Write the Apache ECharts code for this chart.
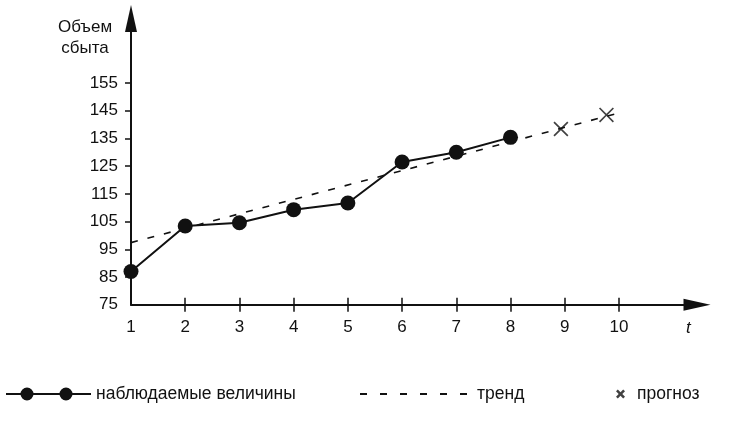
<!DOCTYPE html>
<html>
<head>
<meta charset="utf-8">
<script src="https://cdn.jsdelivr.net/npm/echarts@6/dist/echarts.min.js"></script>
<style>
html,body{margin:0;padding:0;background:#fff;}
#chart{width:732px;height:421px;}
</style>
</head>
<body>
<div id="chart"></div>
<script>
// ---- data ----
var periods = [1, 2, 3, 4, 5, 6, 7, 8];
var observed = [87, 103.4, 104.6, 109.3, 111.7, 126.5, 130, 135.4];
var trendX = [1, 10];
var trendY = [97.4, 144.2];
var forecastX = [8.93, 9.77];
var forecastY = [138.4, 143.5];
var xTickLabels = [1, 2, 3, 4, 5, 6, 7, 8, 9, 10];
var yTickLabels = [75, 85, 95, 105, 115, 125, 135, 145, 155];
var seriesNames = ['наблюдаемые величины', 'тренд', 'прогноз'];
var yTitle = 'Объем\nсбыта';
var xTitle = 't';

var FONT = '"Liberation Sans", Arial, Helvetica, sans-serif';
var INK = '#111';

var crossThin = 'path://M0,1.1 L1.1,0 L7,5.9 L12.9,0 L14,1.1 L8.1,7 L14,12.9 L12.9,14 L7,8.1 L1.1,14 L0,12.9 L5.9,7 Z';
var crossBold = 'path://M0,1.6 L1.6,0 L4,2.4 L6.4,0 L8,1.6 L5.6,4 L8,6.4 L6.4,8 L4,5.6 L1.6,8 L0,6.4 L2.4,4 Z';
var obsIcon = 'path://M0,5.5 L85,5.5 L85,7.5 L0,7.5 Z M14.5,6.5 A6.5,6.5 0 1 1 27.5,6.5 A6.5,6.5 0 1 1 14.5,6.5 Z M53.5,6.5 A6.5,6.5 0 1 1 66.5,6.5 A6.5,6.5 0 1 1 53.5,6.5 Z';
var dashIcon = 'path://M0,0 L7,0 L7,2 L0,2 Z M20,0 L27,0 L27,2 L20,2 Z M40,0 L47,0 L47,2 L40,2 Z M60,0 L67,0 L67,2 L60,2 Z M80,0 L87,0 L87,2 L80,2 Z M100,0 L107,0 L107,2 L100,2 Z';

var chart = echarts.init(document.getElementById('chart'), null, {renderer: 'canvas'});

var legendText = {color: INK, fontSize: 17.5, fontFamily: FONT};
var X_MAX = 11.44;

var option = {
  backgroundColor: '#fff',
  animation: false,
  grid: {left: 131, right: 35, top: 18.5, bottom: 116.3, containLabel: false, outerBoundsMode: 'none'},
  xAxis: [{
    type: 'value', min: 1, max: X_MAX, interval: 1,
    axisLine: {show: true, symbol: ['none', 'triangle'], symbolSize: [12, 27], lineStyle: {color: INK, width: 2}},
    axisTick: {show: true, inside: false, length: 7, lineStyle: {color: INK, width: 1.5}, customValues: xTickLabels.slice(1)},
    axisLabel: {show: true, customValues: xTickLabels, margin: 14, color: INK, fontSize: 17, fontFamily: FONT},
    splitLine: {show: false},
    name: xTitle, nameLocation: 'end', nameGap: -11,
    nameTextStyle: {fontStyle: 'italic', fontSize: 17, fontFamily: FONT, color: INK, verticalAlign: 'top', align: 'left', padding: [15, 0, 0, 0]}
  }, {
    type: 'value', min: 1, max: X_MAX, interval: 1, position: 'bottom',
    axisLine: {show: false},
    axisTick: {show: true, inside: true, length: 7, lineStyle: {color: INK, width: 1.5}, customValues: xTickLabels.slice(1)},
    axisLabel: {show: false},
    splitLine: {show: false}
  }],
  yAxis: {
    type: 'value', min: 75, max: 178.3, interval: 5,
    axisLine: {show: true, symbol: ['none', 'triangle'], symbolSize: [12, 27], lineStyle: {color: INK, width: 2}},
    axisTick: {show: true, inside: false, length: 6, lineStyle: {color: INK, width: 1.5}, customValues: yTickLabels.slice(1)},
    axisLabel: {show: true, customValues: yTickLabels, margin: 13, color: INK, fontSize: 17, fontFamily: FONT},
    splitLine: {show: false},
    name: yTitle, nameLocation: 'end', nameGap: -40,
    nameTextStyle: {fontSize: 17, fontFamily: FONT, color: INK, lineHeight: 21, align: 'center', verticalAlign: 'bottom', padding: [0, 92, 0, 0]}
  },
  legend: [{
    left: 6, top: 385, padding: 0, orient: 'horizontal',
    itemWidth: 85, itemHeight: 13,
    data: [{name: seriesNames[0], icon: obsIcon}],
    textStyle: legendText
  }, {
    left: 360, top: 385, padding: 0, orient: 'horizontal',
    itemWidth: 107, itemHeight: 2,
    data: [{name: seriesNames[1], icon: dashIcon}],
    textStyle: Object.assign({padding: [0, 0, 0, 5]}, legendText)
  }, {
    left: 616, top: 385, padding: 0, orient: 'horizontal',
    itemWidth: 9, itemHeight: 9,
    data: [{name: seriesNames[2], icon: crossBold}],
    textStyle: Object.assign({padding: [0, 0, 0, 7]}, legendText)
  }],
  series: [{
    name: seriesNames[1], type: 'line', xAxisIndex: 0,
    data: trendX.map(function (x, i) { return [x, trendY[i]]; }),
    showSymbol: false, symbol: 'none',
    lineStyle: {color: INK, width: 1.6, type: [7, 10]},
    itemStyle: {color: INK},
    z: 2
  }, {
    name: seriesNames[0], type: 'line', xAxisIndex: 0,
    data: periods.map(function (x, i) { return [x, observed[i]]; }),
    symbol: 'circle', symbolSize: 15,
    lineStyle: {color: INK, width: 2},
    itemStyle: {color: INK},
    z: 3
  }, {
    name: seriesNames[2], type: 'scatter', xAxisIndex: 0,
    data: forecastX.map(function (x, i) { return [x, forecastY[i]]; }),
    symbol: crossThin, symbolSize: 15,
    itemStyle: {color: INK},
    z: 4
  }]
};
chart.setOption(option);
</script>
</body>
</html>
